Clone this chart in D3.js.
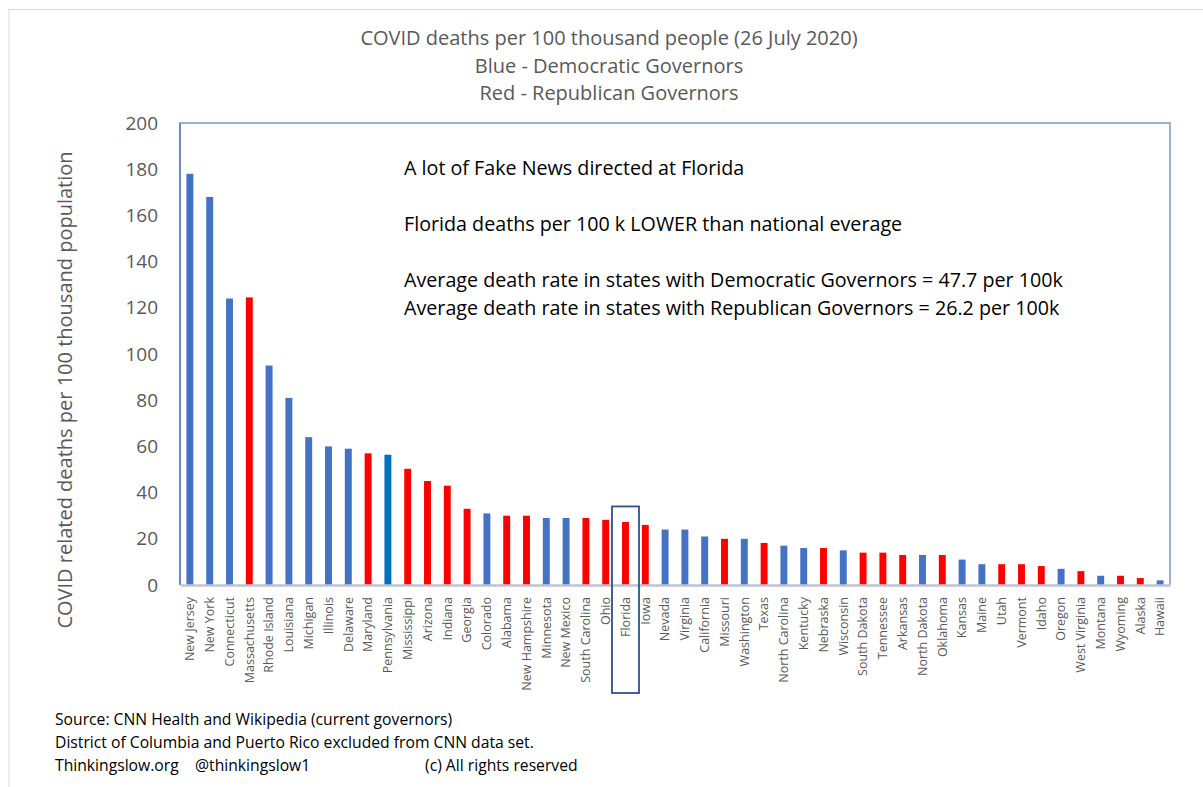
<!DOCTYPE html>
<html lang="en">
<head>
<meta charset="UTF-8">
<title>COVID deaths per 100 thousand people</title>
<script src="https://d3js.org/d3.v7.min.js"></script>
<style>
  body { margin: 0; background: #fff; }
  text { font-family: "Open Sans", "Noto Sans", sans-serif; }
</style>
</head>
<body>
<div class="canvas"></div>
<script>
  // states, sorted by deaths per 100k
  const states = ['New Jersey','New York','Connecticut','Massachusetts','Rhode Island','Louisiana','Michigan','Illinois','Delaware','Maryland',
    'Pennsylvania','Mississippi','Arizona','Indiana','Georgia','Colorado','Alabama','New Hampshire','Minnesota','New Mexico',
    'South Carolina','Ohio','Florida','Iowa','Nevada','Virginia','California','Missouri','Washington','Texas',
    'North Carolina','Kentucky','Nebraska','Wisconsin','South Dakota','Tennessee','Arkansas','North Dakota','Oklahoma','Kansas',
    'Maine','Utah','Vermont','Idaho','Oregon','West Virginia','Montana','Wyoming','Alaska','Hawaii'];
  const deaths = [178,168,124,124.5,95,81,64,60,59,57,
    56.4,50.3,45,43,33,31,30,30,29,29,
    29,28.2,27.3,26,24,24,21,20,20,18.2,
    17,16,16,15,14,14,13,13,13,11,
    9,9,9,8.2,7,6,4,4,3,2];
  // governor party as coloured in the picture (D = blue, R = red, P = darker blue)
  const party = ['D','D','D','R','D','D','D','D','D','R',
    'P','R','R','R','R','D','R','R','D','D',
    'R','R','R','R','D','D','D','R','D','R',
    'D','D','R','D','R','R','R','D','R','D',
    'D','R','R','R','D','R','D','R','R','D'];
  const yTicks = [0,20,40,60,80,100,120,140,160,180,200];

  const titleLines = ['COVID deaths per 100 thousand people (26 July 2020)','Blue - Democratic Governors','Red - Republican Governors'];
  const notes = ['A lot of Fake News directed at Florida','Florida deaths per 100 k LOWER than national everage',
    'Average death rate in states with Democratic Governors = 47.7 per 100k','Average death rate in states with Republican Governors = 26.2 per 100k'];
  const footer = ['Source: CNN Health and Wikipedia (current governors)','District of Columbia and Puerto Rico excluded from CNN data set.','Thinkingslow.org    @thinkingslow1'];

  const colors = { D: '#4472C4', R: '#FF0000', P: '#0070C0' };
  const data = states.map((s, i) => ({ state: s, value: deaths[i], party: party[i] }));

  const width = 1203, height = 787;
  const [ml, mr, mt, mb] = [180, 33, 123, 202];

  const svg = d3.select('.canvas').append('svg')
      .attr('width', width).attr('height', height);

  // outer frame
  svg.append('rect').attr('x', 9).attr('y', 9.5).attr('width', 1300).attr('height', 900)
      .attr('fill', 'none').attr('stroke', '#D9D9D9').attr('stroke-width', 1);

  const x = d3.scaleBand().domain(states).range([ml, width - mr]).paddingInner(0.65).paddingOuter(0.325);
  const y = d3.scaleLinear().domain([0, 200]).range([height - mb, mt]);

  // titles
  svg.append('g').selectAll('text').data(titleLines).join('text')
      .attr('x', 609).attr('y', (d, i) => 45 + i * 27.5)
      .attr('text-anchor', 'middle').attr('font-size', 20).attr('fill', '#595959')
      .text(d => d);

  // bars
  svg.append('g').selectAll('rect').data(data).join('rect')
      .attr('x', d => x(d.state))
      .attr('width', x.bandwidth())
      .attr('y', d => y(d.value))
      .attr('height', d => y(0) - y(d.value))
      .attr('fill', d => colors[d.party]);

  // plot border
  svg.append('path')
      .attr('d', `M${ml},${y(0)}V${y(200)}H${width - mr}V${y(0)}`)
      .attr('fill', 'none').attr('stroke', '#7F96C0').attr('stroke-width', 1.5);
  svg.append('line').attr('x1', ml).attr('x2', ml).attr('y1', y(0)).attr('y2', y(200))
      .attr('stroke', '#5B7DC0').attr('stroke-width', 1.5);

  // y axis
  const yAxis = d3.axisLeft(y).tickValues(yTicks).tickSize(0).tickPadding(22);
  const yAxisG = svg.append('g').attr('transform', `translate(${ml},0)`).call(yAxis);
  yAxisG.select('.domain').remove();
  yAxisG.selectAll('text').attr('font-size', 19).attr('fill', '#595959')
      .attr('font-family', '"Open Sans", sans-serif');

  // x axis
  const xAxis = d3.axisBottom(x).tickSize(0).tickPadding(0);
  const xAxisG = svg.append('g').attr('transform', `translate(0,${y(0)})`).call(xAxis);
  xAxisG.select('.domain').attr('stroke', '#BFC3D3').attr('stroke-width', 2.5);
  xAxisG.selectAll('text')
      .attr('font-size', 12.5).attr('fill', '#595959')
      .attr('font-family', '"Open Sans", sans-serif')
      .attr('text-anchor', 'end').attr('dy', '0.35em')
      .attr('transform', 'translate(0,12) rotate(-90)')
      .attr('x', 0).attr('y', 0);

  // y axis title
  svg.append('text')
      .attr('transform', `translate(72,${(y(0) + y(200)) / 2 + 36}) rotate(-90)`)
      .attr('text-anchor', 'middle').attr('font-size', 20).attr('fill', '#595959')
      .text('COVID related deaths per 100 thousand population');

  // Florida highlight box
  const fx = x('Florida') + x.bandwidth() / 2;
  svg.append('rect')
      .attr('x', fx - 13.5).attr('y', y(34))
      .attr('width', 27).attr('height', 693 - y(34))
      .attr('fill', 'none').attr('stroke', '#2F5089').attr('stroke-width', 1.8);

  // annotations
  const noteY = [175, 231, 287, 315];
  svg.append('g').selectAll('text').data(notes).join('text')
      .attr('x', 404).attr('y', (d, i) => noteY[i])
      .attr('font-size', 19.7).attr('fill', '#000')
      .text(d => d);

  // footer
  svg.append('g').selectAll('text').data(footer).join('text')
      .attr('x', 55).attr('y', (d, i) => 725 + i * 23)
      .attr('font-size', 15.7).attr('fill', '#000')
      .attr('xml:space', 'preserve')
      .text(d => d);
  svg.append('text').attr('x', 425).attr('y', 771)
      .attr('font-size', 15.7).attr('fill', '#000')
      .text('(c) All rights reserved');
</script>
</body>
</html>
